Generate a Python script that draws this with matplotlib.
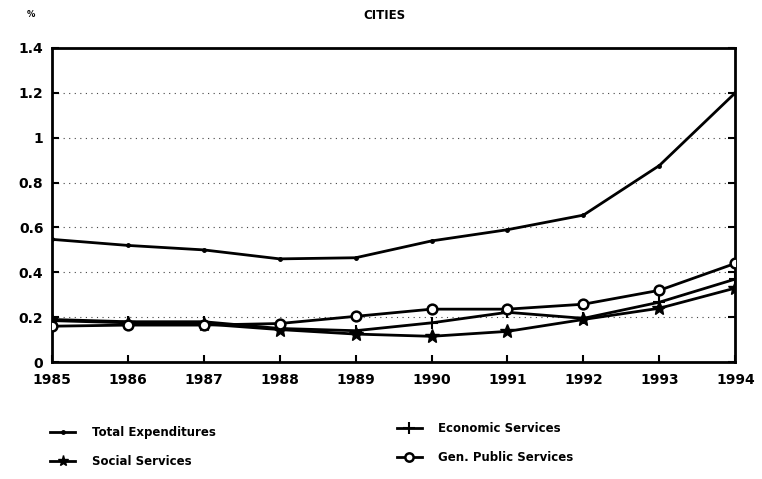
import matplotlib
matplotlib.use("Agg")
import matplotlib.pyplot as plt
from matplotlib.lines import Line2D

years = [1985, 1986, 1987, 1988, 1989, 1990, 1991, 1992, 1993, 1994]
total_exp = [0.547, 0.52, 0.50, 0.46, 0.465, 0.54, 0.59, 0.655, 0.876, 1.20]
social = [0.185, 0.175, 0.17, 0.145, 0.125, 0.115, 0.137, 0.19, 0.24, 0.33]
economic = [0.19, 0.18, 0.18, 0.15, 0.14, 0.175, 0.222, 0.195, 0.267, 0.37]
gen_public = [0.16, 0.165, 0.165, 0.172, 0.204, 0.236, 0.236, 0.258, 0.32, 0.44]
yticks = [0, 0.2, 0.4, 0.6, 0.8, 1.0, 1.2, 1.4]
ytick_labels = ["0", "0.2", "0.4", "0.6", "0.8", "1", "1.2", "1.4"]

plt.rcParams['font.family'] = ['DejaVu Sans']

fig = plt.figure(figsize=(7.62, 4.79), dpi=100)
ax = fig.add_axes([0.068, 0.244, 0.897, 0.656])

for y in yticks[1:-1]:
    ax.axhline(y, color='#444444', lw=0.8, ls=(0, (1, 4)), zorder=1)

lw = 2.0
ax.plot(years, total_exp, color='black', lw=lw, marker='o', ms=2.5, zorder=3)
ax.plot(years, social, color='black', lw=lw, marker='*', ms=10, zorder=3)
ax.plot(years, economic, color='black', lw=lw, marker='+', ms=9, mew=1.5, zorder=3)
ax.plot(years, gen_public, color='black', lw=lw, marker='o', ms=7, mfc='white', mew=1.8, zorder=4)

ax.set_xlim(1985, 1994)
ax.set_ylim(0, 1.4)
ax.set_xticks(years)
ax.set_xticklabels([str(y) for y in years], fontsize=10, fontweight='bold')
ax.set_yticks(yticks)
ax.set_yticklabels(ytick_labels, fontsize=10, fontweight='bold')
ax.tick_params(axis='both', direction='in', length=5, width=1.5, right=True)
ax.tick_params(axis='x', pad=8)
ax.tick_params(axis='y', pad=6)
for s in ax.spines.values():
    s.set_linewidth(2)

fig.text(0.505, 0.967, "CITIES", ha='center', va='center', fontsize=8.5, fontweight='bold')
fig.text(0.040, 0.970, "%", ha='center', va='center', fontsize=6, fontweight='bold')

h_total = Line2D([], [], color='black', lw=lw, marker='o', ms=2.5)
h_social = Line2D([], [], color='black', lw=lw, marker='*', ms=8)
h_econ = Line2D([], [], color='black', lw=lw, marker='+', ms=9, mew=1.5)
h_gen = Line2D([], [], color='black', lw=lw, marker='o', ms=6, mfc='white', mew=1.8)

leg_kw = dict(frameon=False, prop={'size': 8.5, 'weight': 'bold'},
              handlelength=2.1, labelspacing=1.35, handletextpad=1.4,
              borderpad=0, borderaxespad=0)
fig.legend([h_total, h_social], ["Total Expenditures", "Social Services"],
           loc='upper left', bbox_to_anchor=(0.066, 0.110), **leg_kw)
fig.legend([h_econ, h_gen], ["Economic Services", "Gen. Public Services"],
           loc='upper left', bbox_to_anchor=(0.521, 0.118), **leg_kw)

fig.savefig("out.png", dpi=100)
